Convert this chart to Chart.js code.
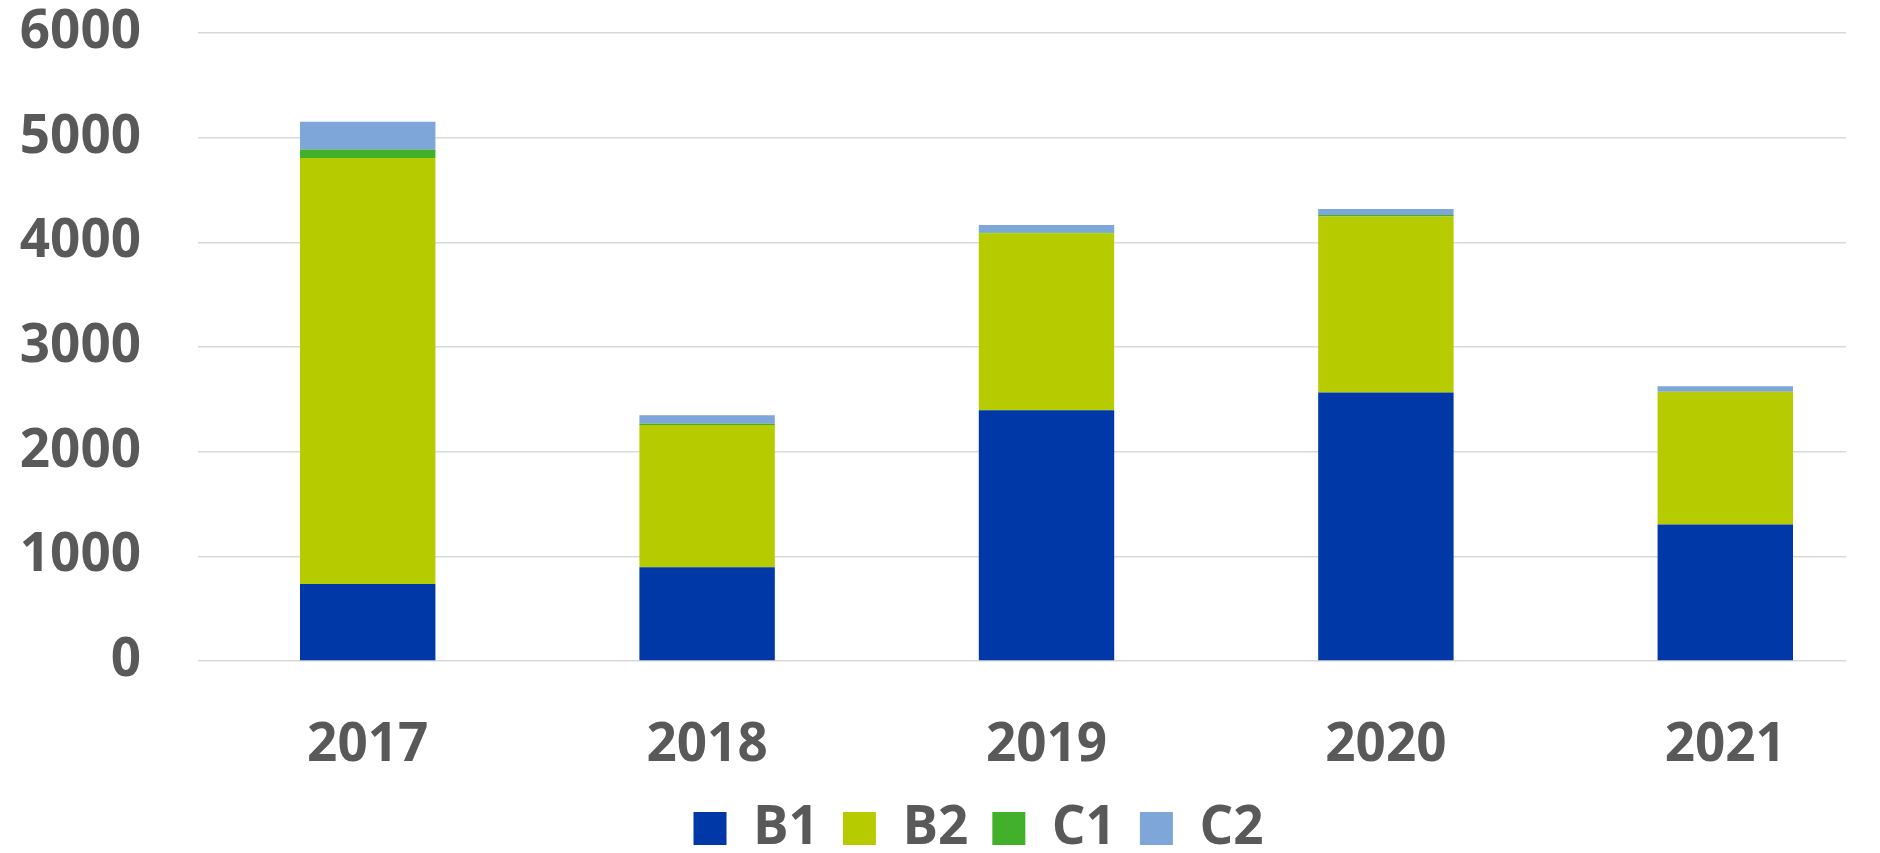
<!DOCTYPE html>
<html>
<head>
<meta charset="utf-8">
<script src="https://cdn.jsdelivr.net/npm/chart.js@4"></script>
<style>
  html, body { margin: 0; padding: 0; background: #fff; overflow: hidden; }
  /* the original's last category slot runs a little past the right edge */
  #wrap { width: 1895px; height: 853px; }
</style>
</head>
<body>
<div id="wrap"><canvas id="stackChart"></canvas></div>
<script>
const years = ["2017", "2018", "2019", "2020", "2021"];
const b1 = [735, 895, 2395, 2565, 1305];
const b2 = [4070, 1360, 1690, 1683, 1268];
const c1 = [82, 12, 10, 12, 0];
const c2 = [264, 80, 70, 58, 53];

const textColor = "#595959";
const font = { family: "'Open Sans', 'DejaVu Sans', sans-serif", size: 53, weight: "bold" };
const gridEnd = 1846; // the original's gridlines stop short of the plot's right end

// clip so the gridlines end where the original's do, and nudge the legend across
const tweaks = {
  id: "tweaks",
  afterLayout(chart) {
    chart.legend.left += 31;
    chart.legend.right += 31;
  },
  beforeDraw(chart) {
    const c = chart.ctx;
    c.save();
    c.beginPath();
    c.rect(0, 0, gridEnd, chart.height);
    c.clip();
  },
  afterDraw(chart) {
    chart.ctx.restore();
  },
};

const ctx = document.getElementById("stackChart").getContext("2d");
new Chart(ctx, {
  type: "bar",
  data: {
    labels: years,
    datasets: [
      { label: "B1", data: b1, backgroundColor: "#0038a8" },
      { label: "B2", data: b2, backgroundColor: "#b6cc00" },
      { label: "C1", data: c1, backgroundColor: "#42b02a" },
      { label: "C2", data: c2, backgroundColor: "#7ea6d8" },
    ],
  },
  options: {
    responsive: true,
    maintainAspectRatio: false,
    animation: false,
    barPercentage: 0.399,
    categoryPercentage: 1,
    layout: { padding: { left: 0, right: 0, top: 33, bottom: 0 } },
    plugins: {
      tooltip: { enabled: false },
      legend: {
        position: "bottom",
        maxHeight: 75,
        labels: {
          color: textColor,
          font: font,
          boxWidth: 33,
          boxHeight: 33,
          padding: 24,
        },
      },
    },
    scales: {
      x: {
        stacked: true,
        grid: { display: false, drawTicks: false },
        border: { display: false },
        ticks: { color: textColor, font: font, padding: 53 },
        afterFit: (scale) => {
          scale.height = 117;
          scale.paddingLeft = 0;
          scale.paddingRight = 0;
        },
      },
      y: {
        stacked: true,
        min: 0,
        max: 6000,
        grid: { color: "#d9d9d9", lineWidth: 1.5, drawTicks: false },
        border: { display: false },
        ticks: {
          color: textColor,
          font: font,
          stepSize: 1000,
          padding: 57,
          callback: (v) => String(v),
        },
        afterFit: (scale) => {
          // keep labels where they are but stop the padding from eating plot space
          scale.width = 198;
          scale.paddingTop = 0;
          scale.paddingBottom = 0;
        },
      },
    },
  },
  plugins: [tweaks],
});
</script>
</body>
</html>
